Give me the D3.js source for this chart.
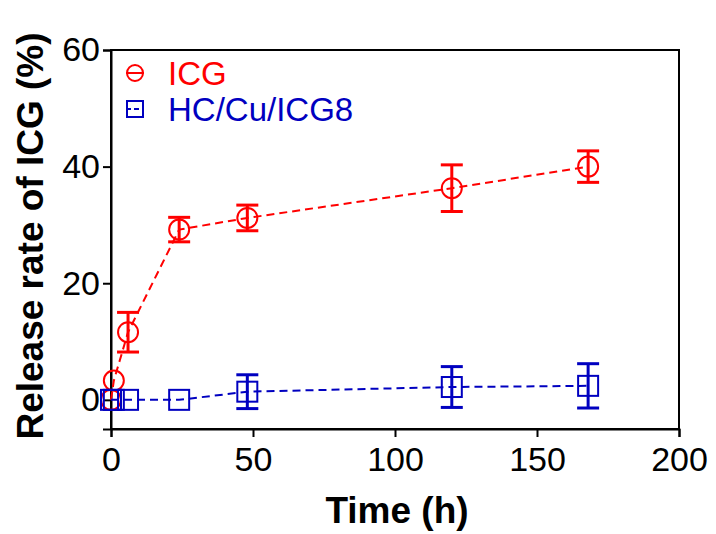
<!DOCTYPE html>
<html>
<head>
<meta charset="utf-8">
<script src="https://cdn.jsdelivr.net/npm/d3@7"></script>
<style>
  body { margin: 0; background: #fff; }
  text { font-family: "Liberation Sans", Arial, sans-serif; }
</style>
</head>
<body>
<div class="chart"></div>
<script>
// data
const hours = [0, 1, 6, 24, 48, 120, 168];
const icgValues = [0, 3.3, 11.6, 29.2, 31.2, 36.3, 40.0];
const icgErrors = [0, 0, 3.4, 2.1, 2.2, 4.0, 2.7];
const hcValues = [0, 0, 0, 0, 1.4, 2.2, 2.4];
const hcErrors = [0, 0, 0, 0, 2.9, 3.5, 3.8];
const xTicks = [0, 50, 100, 150, 200];
const yTicks = [0, 20, 40, 60];

const series = [
    {name: "ICG", color: "#ff0000", shape: "circle", values: icgValues, errors: icgErrors},
    {name: "HC/Cu/ICG8", color: "#0000c0", shape: "square", values: hcValues, errors: hcErrors}
];

const margin = {top: 50, left: 111, right: 37, bottom: 105};
const width = 716 - margin.left - margin.right,
    height = 534 - margin.top - margin.bottom;

const svg = d3.select(".chart")
    .append("svg")
    .attr("width", 716)
    .attr("height", 534);

const gr = svg.append("g")
    .attr("transform", "translate(" + margin.left + "," + margin.top + ")");

const xScale = d3.scaleLinear().domain([0, 200]).range([0, width]);
const yScale = d3.scaleLinear().domain([-5, 60]).range([height, 0]);

// frame
gr.append("rect")
    .attr("width", width).attr("height", height)
    .attr("fill", "none").attr("stroke", "#000").attr("stroke-width", 2);

const xAxis = d3.axisBottom(xScale).tickValues(xTicks).tickSize(8).tickPadding(10);
const yAxis = d3.axisLeft(yScale).tickValues(yTicks).tickSize(8).tickPadding(3);

const xAxGr = gr.append("g")
    .attr("transform", "translate(0," + height + ")")
    .call(xAxis);
const yAxGr = gr.append("g").call(yAxis);

[xAxGr, yAxGr].forEach(g => {
    g.select(".domain").attr("stroke-width", 2);
    g.selectAll(".tick line").attr("stroke-width", 2);
    g.selectAll(".tick text")
        .attr("font-size", 34)
        .attr("fill", "#000")
        .style("font-family", "'Liberation Sans', Arial, sans-serif");
});

// axis titles
svg.append("text")
    .attr("x", 397)
    .attr("y", 523)
    .attr("text-anchor", "middle")
    .attr("font-size", 37)
    .attr("font-weight", "bold")
    .text("Time (h)");

svg.append("text")
    .attr("transform", "translate(43,236) rotate(-90)")
    .attr("text-anchor", "middle")
    .attr("font-size", 37)
    .attr("font-weight", "bold")
    .text("Release rate of ICG (%)");

const line = d3.line()
    .x(d => xScale(d.x))
    .y(d => yScale(d.y));

function drawMarker(sel, shape, color, r) {
    if (shape === "circle") {
        sel.append("circle").attr("r", r)
            .attr("fill", "none").attr("stroke", color).attr("stroke-width", 2);
    } else {
        sel.append("rect").attr("x", -r).attr("y", -r)
            .attr("width", 2 * r).attr("height", 2 * r)
            .attr("fill", "none").attr("stroke", color).attr("stroke-width", 2);
    }
}

series.forEach(s => {
    const pts = hours.map((h, i) => ({x: h, y: s.values[i], e: s.errors[i]}));
    const g = gr.append("g");

    g.append("path")
        .datum(pts)
        .attr("d", line)
        .attr("fill", "none")
        .attr("stroke", s.color)
        .attr("stroke-width", 2)
        .attr("stroke-dasharray", "8,5");

    const eb = g.selectAll(".err")
        .data(pts.filter(d => d.e > 0))
        .join("g")
        .attr("stroke", s.color)
        .attr("stroke-width", 3);
    eb.append("line")
        .attr("x1", d => xScale(d.x)).attr("x2", d => xScale(d.x))
        .attr("y1", d => yScale(d.y + d.e)).attr("y2", d => yScale(d.y - d.e));
    eb.append("line")
        .attr("x1", d => xScale(d.x) - 11).attr("x2", d => xScale(d.x) + 11)
        .attr("y1", d => yScale(d.y + d.e)).attr("y2", d => yScale(d.y + d.e));
    eb.append("line")
        .attr("x1", d => xScale(d.x) - 11).attr("x2", d => xScale(d.x) + 11)
        .attr("y1", d => yScale(d.y - d.e)).attr("y2", d => yScale(d.y - d.e));

    const mk = g.selectAll(".mk")
        .data(pts)
        .join("g")
        .attr("transform", d => "translate(" + xScale(d.x) + "," + yScale(d.y) + ")");
    drawMarker(mk, s.shape, s.color, 10);
});

// legend
const leg = gr.selectAll(".leg")
    .data(series)
    .join("g")
    .attr("transform", (d, i) => "translate(24," + (23 + i * 36) + ")");
leg.each(function(d) {
    const g = d3.select(this);
    g.append("line").attr("x1", -9).attr("x2", 9)
        .attr("stroke", d.color).attr("stroke-width", 2)
        .attr("stroke-dasharray", d.shape === "square" ? "5,3" : null);
    drawMarker(g.append("g"), d.shape, d.color, 8);
    g.append("text")
        .attr("x", 33).attr("dy", "0.36em")
        .attr("font-size", 33)
        .attr("fill", d.color)
        .text(d.name);
});
</script>
</body>
</html>
